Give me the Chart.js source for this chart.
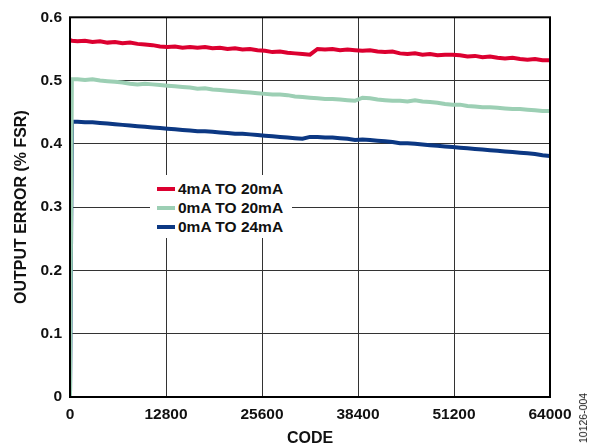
<!DOCTYPE html>
<html>
<head>
<meta charset="utf-8">
<script src="https://cdn.jsdelivr.net/npm/chart.js@4"></script>
<style>
  body { margin: 0; background: #fff; }
  #wrap { position: relative; width: 590px; height: 447px; }
  #legend {
    position: absolute; left: 150px; top: 175px; width: 142px; height: 63px;
    background: #fff; font: bold 15.5px "Liberation Sans", Arial, sans-serif; color: #111;
  }
  .item { position: absolute; left: 7px; height: 19px; line-height: 19px; white-space: nowrap; }
  .item span.swatch { position: absolute; left: 0; top: 8px; width: 18px; height: 4px; }
  .item span.label { position: absolute; left: 21px; top: 0; }
  #note {
    position: absolute; left: 583px; top: 418px; transform: translate(-50%, -50%) rotate(-90deg);
    font: 10.5px "Liberation Sans", Arial, sans-serif; color: #111; white-space: nowrap;
  }
</style>
</head>
<body>
<div id="wrap">
  <canvas id="chart" width="590" height="447"></canvas>
  <div id="legend"></div>
  <div id="note">10126-004</div>
</div>
<script>
// datos
const codes = [0, 250, 1000, 2000, 3000, 4000, 5000, 6000, 7000, 8000, 9000, 10000,
  11000, 12000, 13000, 14000, 15000, 16000, 17000, 18000, 19000, 20000,
  21000, 22000, 23000, 24000, 25000, 26000, 27000, 28000, 29000, 30000,
  31000, 32000, 33000, 34000, 35000, 36000, 37000, 38000, 39000, 40000,
  41000, 42000, 43000, 44000, 45000, 46000, 47000, 48000, 49000, 50000,
  51000, 52000, 53000, 54000, 55000, 56000, 57000, 58000, 59000, 60000,
  61000, 62000, 63000, 64000];

const err4to20 = [0.564, 0.563, 0.562, 0.563, 0.561, 0.562, 0.560, 0.561, 0.559, 0.560, 0.558, 0.557,
  0.556, 0.554, 0.553, 0.554, 0.552, 0.553, 0.552, 0.553, 0.551, 0.552,
  0.550, 0.551, 0.549, 0.550, 0.548, 0.547, 0.545, 0.546, 0.544, 0.543,
  0.542, 0.541, 0.550, 0.549, 0.550, 0.548, 0.549, 0.548, 0.547, 0.548,
  0.546, 0.545, 0.546, 0.543, 0.542, 0.543, 0.541, 0.542, 0.540, 0.541,
  0.541, 0.540, 0.538, 0.539, 0.537, 0.538, 0.536, 0.535, 0.536, 0.534,
  0.533, 0.534, 0.532, 0.532];

const err0to20 = [0, 0.502, 0.502, 0.501, 0.502, 0.500, 0.499, 0.498, 0.497, 0.495, 0.494, 0.495,
  0.494, 0.493, 0.492, 0.491, 0.490, 0.489, 0.487, 0.488, 0.486, 0.485,
  0.484, 0.483, 0.482, 0.481, 0.480, 0.479, 0.478, 0.478, 0.477, 0.475,
  0.474, 0.473, 0.472, 0.471, 0.471, 0.470, 0.469, 0.468, 0.473, 0.472,
  0.470, 0.469, 0.468, 0.468, 0.467, 0.469, 0.467, 0.466, 0.465, 0.463,
  0.462, 0.462, 0.460, 0.459, 0.458, 0.458, 0.457, 0.456, 0.455, 0.455,
  0.454, 0.453, 0.452, 0.452];

const err0to24 = [0, 0.435, 0.435, 0.434, 0.434, 0.433, 0.432, 0.431, 0.430, 0.429, 0.428, 0.427,
  0.426, 0.425, 0.424, 0.423, 0.422, 0.421, 0.420, 0.420, 0.419, 0.418,
  0.417, 0.416, 0.416, 0.415, 0.414, 0.413, 0.412, 0.411, 0.410, 0.409,
  0.408, 0.411, 0.411, 0.410, 0.410, 0.409, 0.408, 0.406, 0.407, 0.406,
  0.405, 0.404, 0.403, 0.401, 0.401, 0.400, 0.399, 0.398, 0.397, 0.396,
  0.395, 0.394, 0.393, 0.392, 0.391, 0.390, 0.389, 0.388, 0.387, 0.386,
  0.385, 0.384, 0.382, 0.381];

const seriesNames = ["4mA TO 20mA", "0mA TO 20mA", "0mA TO 24mA"];
const seriesColors = ["#dc0030", "#9ccfb4", "#0c3883"];
const xTicks = [0, 12800, 25600, 38400, 51200, 64000];
const yTicks = [0, 0.1, 0.2, 0.3, 0.4, 0.5, 0.6];

const font = "'Liberation Sans', Arial, sans-serif";
const toPoints = vals => codes.map((c, i) => ({ x: c, y: vals[i] }));

// marco negro alrededor del área del gráfico
const frame = {
  id: "frame",
  afterDraw(chart) {
    const { ctx, chartArea: a } = chart;
    ctx.save();
    ctx.strokeStyle = "#000";
    ctx.lineWidth = 2;
    ctx.strokeRect(a.left, a.top, a.right - a.left, a.bottom - a.top);
    ctx.restore();
  }
};

new Chart(document.getElementById("chart"), {
  type: "line",
  data: {
    datasets: [
      { label: seriesNames[0], data: toPoints(err4to20), borderColor: seriesColors[0], order: 1 },
      { label: seriesNames[1], data: toPoints(err0to20), borderColor: seriesColors[1], order: 0 },
      { label: seriesNames[2], data: toPoints(err0to24), borderColor: seriesColors[2], order: 2 }
    ]
  },
  options: {
    responsive: false,
    animation: false,
    devicePixelRatio: 1,
    layout: { padding: { top: 14, right: 40, left: 0, bottom: 0 } },
    elements: {
      point: { radius: 0 },
      line: { borderWidth: 4, tension: 0 }
    },
    plugins: { legend: { display: false }, tooltip: { enabled: false } },
    scales: {
      x: {
        type: "linear", min: 0, max: 64000,
        afterBuildTicks: s => { s.ticks = xTicks.map(v => ({ value: v })); },
        afterFit: s => { s.height = 50; },
        grid: { color: "#333", lineWidth: 1, drawTicks: false },
        border: { display: false },
        ticks: { padding: 8, color: "#111", font: { family: font, size: 15.5, weight: "bold" }, maxRotation: 0,
          callback: v => String(v) },
        title: { display: true, text: "CODE", color: "#111", padding: 0,
          font: { family: font, size: 16, weight: "bold", lineHeight: 1 } }
      },
      y: {
        min: 0, max: 0.6,
        afterBuildTicks: s => { s.ticks = yTicks.map(v => ({ value: v })); },
        afterFit: s => { s.width = 70; },
        grid: { color: "#333", lineWidth: 1, drawTicks: false },
        border: { display: false },
        ticks: { padding: 8, color: "#111", font: { family: font, size: 15.5, weight: "bold" },
          callback: v => String(Math.round(v * 10) / 10) },
        title: { display: true, text: "OUTPUT ERROR (% FSR)", color: "#111", padding: { top: 14, bottom: 0 },
          font: { family: font, size: 16, weight: "bold", lineHeight: 1 } }
      }
    }
  },
  plugins: [frame]
});

// leyenda dentro del gráfico
const legend = document.getElementById("legend");
const rowTops = [4, 23, 42];
seriesNames.forEach((name, i) => {
  const row = document.createElement("div");
  row.className = "item";
  row.style.top = rowTops[i] + "px";
  row.innerHTML = `<span class="swatch" style="background:${seriesColors[i]}"></span><span class="label">${name}</span>`;
  legend.appendChild(row);
});
</script>
</body>
</html>
